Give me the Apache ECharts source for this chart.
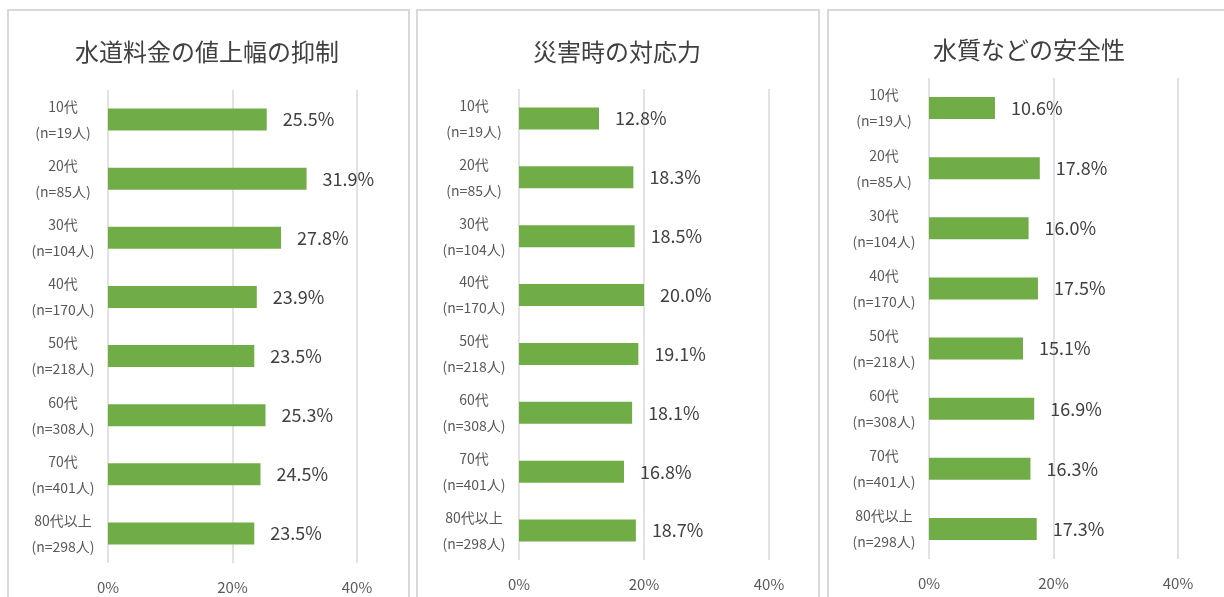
<!DOCTYPE html>
<html>
<head>
<meta charset="utf-8">
<script src="https://cdn.jsdelivr.net/npm/echarts@6/dist/echarts.min.js"></script>
<style>
  html, body { margin: 0; padding: 0; background: #fff; }
  #chart { width: 1224px; height: 597px; }
</style>
</head>
<body>
<div id="chart"></div>
<script>
// age groups (category axis, top to bottom)
const ageGroups = [
    '10代\n(n=19人)',
    '20代\n(n=85人)',
    '30代\n(n=104人)',
    '40代\n(n=170人)',
    '50代\n(n=218人)',
    '60代\n(n=308人)',
    '70代\n(n=401人)',
    '80代以上\n(n=298人)'
];

const panelTitles = ['水道料金の値上幅の抑制', '災害時の対応力', '水質などの安全性'];

// percentages per panel
const priceRise = [25.5, 31.9, 27.8, 23.9, 23.5, 25.3, 24.5, 23.5];
const disaster = [12.8, 18.3, 18.5, 20.0, 19.1, 18.1, 16.8, 18.7];
const safety = [10.6, 17.8, 16.0, 17.5, 15.1, 16.9, 16.3, 17.3];

const xMin = 0;
const xMax = 40;
const xStep = 20;

const panelData = [priceRise, disaster, safety];

// layout of each panel (box and plot area)
const panels = [
    { box: [8, 10, 401, 620], grid: { left: 108, top: 90, width: 249, height: 473 }, titleX: 207, titleY: 52 },
    { box: [417, 10, 402, 620], grid: { left: 519, top: 89, width: 250, height: 471 }, titleX: 617, titleY: 52 },
    { box: [828, 10, 420, 620], grid: { left: 929, top: 78, width: 249, height: 481 }, titleX: 1029, titleY: 50 }
];

const FONT = '"Noto Sans CJK JP", "Noto Sans", sans-serif';

const chart = echarts.init(document.getElementById('chart'));

const options = {
    animation: false,
    textStyle: { fontFamily: FONT },
    graphic: panels.map(p => ({
        type: 'rect',
        shape: { x: p.box[0], y: p.box[1], width: p.box[2], height: p.box[3] },
        style: { fill: 'none', stroke: '#d9d9d9', lineWidth: 2 },
        silent: true,
        z: -1
    })).concat(panels.map((p, i) => ({
        type: 'text',
        x: p.titleX,
        y: p.titleY,
        style: {
            text: panelTitles[i],
            fontFamily: FONT,
            fontSize: 24,
            fill: '#404040',
            align: 'center',
            verticalAlign: 'middle'
        },
        silent: true
    }))),
    grid: panels.map(p => p.grid),
    xAxis: panels.map((p, i) => ({
        type: 'value',
        gridIndex: i,
        min: xMin,
        max: xMax,
        interval: xStep,
        axisLine: { show: false },
        axisTick: { show: false },
        splitLine: { lineStyle: { color: '#d9d9d9', width: 1.5 } },
        axisLabel: {
            formatter: '{value}%',
            color: '#595959',
            fontSize: 15,
            margin: 17,
            fontFamily: FONT
        }
    })),
    yAxis: panels.map((p, i) => ({
        type: 'category',
        gridIndex: i,
        inverse: true,
        data: ageGroups,
        axisLine: { show: false },
        axisTick: { show: false },
        axisLabel: {
            color: '#595959',
            fontSize: 14,
            lineHeight: 26,
            align: 'center',
            margin: 45,
            fontFamily: FONT
        }
    })),
    series: panelData.map((d, i) => ({
        type: 'bar',
        xAxisIndex: i,
        yAxisIndex: i,
        data: d,
        barWidth: 22,
        itemStyle: { color: '#70ad47' },
        label: {
            show: true,
            position: 'right',
            distance: 16,
            formatter: p => p.value.toFixed(1) + '%',
            color: '#404040',
            fontSize: 18,
            fontFamily: FONT
        }
    }))
};

chart.setOption(options);
</script>
</body>
</html>
